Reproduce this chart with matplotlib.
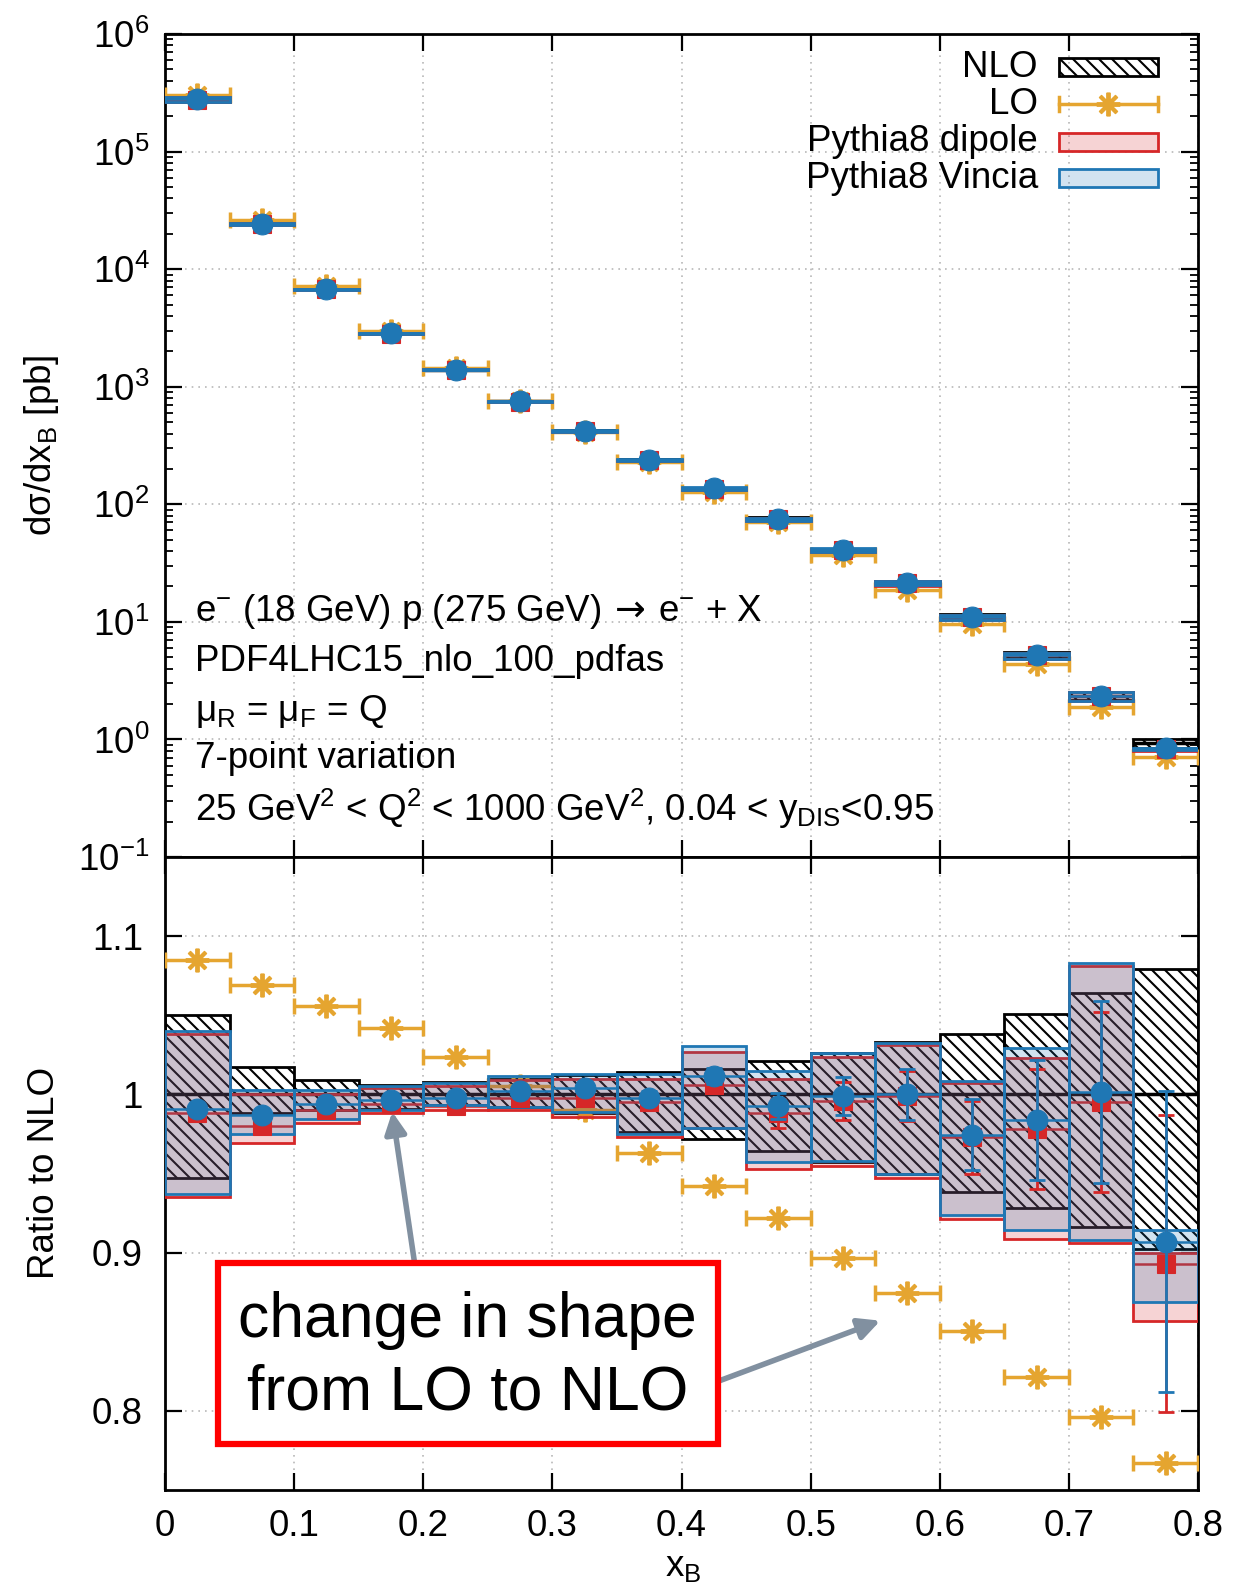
import numpy as np
import matplotlib
matplotlib.use("Agg")
import matplotlib.pyplot as plt
from matplotlib.patches import Rectangle
from matplotlib.lines import Line2D
from matplotlib.ticker import (FixedLocator, LogLocator, FuncFormatter,
                               LogFormatterMathtext, NullFormatter, MultipleLocator)

# Render at a lower dpi (denser hatching); sizes below are given for 100 dpi and rescaled.
DPI = 78
S = 100.0 / DPI


def pt(v):
    return v * S


plt.rcParams["font.family"] = ["Liberation Sans", "DejaVu Sans"]
plt.rcParams["mathtext.fontset"] = "custom"
plt.rcParams["mathtext.rm"] = "Liberation Sans"
plt.rcParams["mathtext.it"] = "Liberation Sans"
plt.rcParams["mathtext.bf"] = "Liberation Sans:bold"
plt.rcParams["mathtext.sf"] = "DejaVu Sans"
plt.rcParams["hatch.linewidth"] = pt(1.5)

HATCH = "\\\\"

# ---------------- data ----------------
bin_edges = [0.0, 0.05, 0.1, 0.15, 0.2, 0.25, 0.3, 0.35, 0.4,
             0.45, 0.5, 0.55, 0.6, 0.65, 0.7, 0.75, 0.8]

# NLO cross section per bin [pb]
nlo_xsec = [2.8e5, 2.45e4, 6.8e3, 2.85e3, 1.4e3, 750, 420, 238, 135,
            76, 41, 21.5, 11.3, 5.3, 2.36, 0.93]
# NLO scale-variation band (ratio to NLO)
nlo_up = [1.050, 1.017, 1.009, 1.006, 1.008, 1.010, 1.012, 1.014, 1.016,
          1.021, 1.026, 1.033, 1.038, 1.051, 1.064, 1.079]
nlo_dn = [0.947, 0.988, 0.990, 0.991, 0.993, 0.992, 0.988, 0.976, 0.972,
          0.964, 0.957, 0.950, 0.938, 0.928, 0.916, 0.902]

# LO (ratio to NLO)
lo_ratio = [1.085, 1.069, 1.056, 1.042, 1.0235, 1.005, 0.990, 0.963, 0.942,
            0.9216, 0.8965, 0.8745, 0.8507, 0.8216, 0.796, 0.767]

# Pythia8 dipole shower (ratio to NLO)
dipole_ratio = [0.988, 0.980, 0.990, 0.994, 0.9925, 0.998, 0.998, 0.995, 1.006,
                0.988, 0.996, 0.999, 0.973, 0.978, 0.995, 0.893]
dipole_err = [0.002, 0.002, 0.002, 0.002, 0.002, 0.002, 0.003, 0.004, 0.005,
              0.009, 0.012, 0.016, 0.023, 0.038, 0.057, 0.094]
dipole_up = [1.038, 1.000, 1.000, 1.004, 1.005, 1.009, 1.010, 1.010, 1.027,
             1.010, 1.0235, 1.031, 1.007, 1.023, 1.081, 0.900]
dipole_dn = [0.935, 0.9695, 0.982, 0.988, 0.990, 0.990, 0.986, 0.973, 0.979,
             0.953, 0.955, 0.947, 0.921, 0.9085, 0.906, 0.857]

# Pythia8 Vincia shower (ratio to NLO)
vincia_ratio = [0.991, 0.987, 0.994, 0.9966, 0.998, 1.002, 1.004, 0.998, 1.0115,
                0.9926, 0.999, 1.0, 0.9745, 0.984, 1.0015, 0.907]
vincia_err = [0.002, 0.002, 0.002, 0.002, 0.002, 0.002, 0.003, 0.004, 0.005,
              0.008, 0.0118, 0.016, 0.0225, 0.038, 0.0575, 0.095]
vincia_up = [1.040, 1.003, 1.003, 1.005, 1.007, 1.0115, 1.0126, 1.0126, 1.0305,
             1.0147, 1.0263, 1.0326, 1.0084, 1.0294, 1.083, 0.914]
vincia_dn = [0.937, 0.975, 0.9847, 0.990, 0.993, 0.992, 0.9886, 0.975, 0.979,
             0.957, 0.958, 0.950, 0.9235, 0.914, 0.908, 0.869]

ratio_ticks = [0.8, 0.9, 1.0, 1.1]

info_lines = [
    r"e$^{\mathrm{-}}$ (18 GeV) p (275 GeV)$\:\mathsf{\rightarrow}\:$e$^{\mathrm{-}}$ + X",
    "PDF4LHC15_nlo_100_pdfas",
    r"μ$_\mathrm{R}$ = μ$_\mathrm{F}$ = Q",
    "7-point variation",
    r"25 GeV$^\mathrm{2}$ < Q$^\mathrm{2}$ < 1000 GeV$^\mathrm{2}$, 0.04 < y$_\mathrm{DIS}$<0.95",
]
legend_labels = ["NLO", "LO", "Pythia8 dipole", "Pythia8 Vincia"]

# ---------------- style ----------------
C_RED = "#d62728"
C_BLUE = "#1f77b4"
C_GOLD = "#e5a530"
C_ARROW = "#8190a0"
FS = pt(26.5)

edges = np.array(bin_edges)
lo_e, hi_e = edges[:-1], edges[1:]
centers = 0.5 * (lo_e + hi_e)
widths = hi_e - lo_e


def band(ax, norm, up, dn, color, z):
    up = np.asarray(up)
    dn = np.asarray(dn)
    ax.bar(centers, norm * (up - dn), bottom=norm * dn, width=widths,
           facecolor=matplotlib.colors.to_rgba(color, 0.2), edgecolor=color,
           linewidth=pt(2), zorder=z)


def draw_panel(ax, norm):
    norm = np.asarray(norm, dtype=float)
    # NLO band (hatched) and its central value
    ax.bar(centers, norm * (np.array(nlo_up) - np.array(nlo_dn)),
           bottom=norm * np.array(nlo_dn), width=widths, facecolor="none",
           edgecolor="black", hatch=HATCH, linewidth=pt(2), zorder=2)
    ax.hlines(norm * np.ones(len(centers)), lo_e, hi_e, color="black",
              lw=pt(2.5), zorder=3)
    # LO
    ax.errorbar(centers, norm * np.array(lo_ratio), xerr=widths / 2, fmt="none",
                ecolor=C_GOLD, elinewidth=pt(2.5), capsize=pt(6), capthick=pt(2.5),
                zorder=3.5)
    ax.plot(centers, norm * np.array(lo_ratio), linestyle="none", marker=(8, 2, 0),
            ms=pt(17), mew=pt(2.8), color=C_GOLD, zorder=3.6)
    # Shower bands
    band(ax, norm, dipole_up, dipole_dn, C_RED, 4)
    ax.hlines(norm * np.array(dipole_ratio), lo_e, hi_e, color=C_RED,
              lw=pt(1.8), zorder=4.5)
    band(ax, norm, vincia_up, vincia_dn, C_BLUE, 5)
    ax.hlines(norm * np.array(vincia_ratio), lo_e, hi_e, color=C_BLUE,
              lw=pt(1.8), zorder=5.5)
    # Shower points with statistical errors
    ax.errorbar(centers, norm * np.array(dipole_ratio), yerr=norm * np.array(dipole_err),
                fmt="s", ms=pt(13), color=C_RED, ecolor=C_RED, elinewidth=pt(2),
                capsize=pt(6), capthick=pt(2), zorder=7)
    ax.errorbar(centers, norm * np.array(vincia_ratio), yerr=norm * np.array(vincia_err),
                fmt="o", ms=pt(15), color=C_BLUE, ecolor=C_BLUE, elinewidth=pt(2),
                capsize=pt(6), capthick=pt(2), zorder=8)


fig = plt.figure(figsize=(1255 / DPI, 1586 / DPI), dpi=DPI)
ax1 = fig.add_axes([165 / 1255, 1 - 857 / 1586, 1033 / 1255, 823 / 1586])
ax2 = fig.add_axes([165 / 1255, 1 - 1490 / 1586, 1033 / 1255, 633 / 1586])

draw_panel(ax1, nlo_xsec)
draw_panel(ax2, np.ones(len(nlo_xsec)))

grid_kw = dict(color="#b8b8b8", linestyle=(0, (1, 3)), linewidth=pt(1.2))
for ax in (ax1, ax2):
    ax.set_xlim(0, 0.8)
    ax.xaxis.set_major_locator(MultipleLocator(0.1))
    ax.xaxis.set_major_formatter(FuncFormatter(lambda v, p: f"{v:g}"))
    ax.grid(True, which="major", **grid_kw)
    ax.set_axisbelow(True)
    for sp in ax.spines.values():
        sp.set_linewidth(pt(2))
    ax.tick_params(which="major", direction="in", top=True, right=True,
                   length=pt(12), width=pt(1.6), labelsize=FS)
    ax.tick_params(which="minor", direction="in", top=True, right=True,
                   length=pt(6), width=pt(1.3))

# top panel axes
ax1.set_yscale("log")
ax1.set_ylim(0.1, 1e6)
ax1.yaxis.set_major_locator(LogLocator(base=10, numticks=20))
ax1.yaxis.set_minor_locator(LogLocator(base=10, subs=np.arange(2, 10), numticks=20))
ax1.yaxis.set_minor_formatter(NullFormatter())
ax1.yaxis.set_major_formatter(LogFormatterMathtext())
ax1.tick_params(axis="x", labelbottom=False)
ax1.tick_params(axis="y", pad=pt(11))

# ratio panel axes
ax2.set_ylim(0.75, 1.15)
ax2.yaxis.set_major_locator(FixedLocator(ratio_ticks))
ax2.yaxis.set_major_formatter(FuncFormatter(lambda v, p: f"{v:g}"))
ax2.tick_params(axis="y", pad=pt(16))
ax2.tick_params(axis="x", pad=pt(14))

# labels
fig.text(42 / 1255, 1 - 445 / 1586, r"dσ/dx$_\mathrm{B}$ [pb]", rotation=90,
         ha="center", va="center", fontsize=FS)
fig.text(45 / 1255, 1 - 1173 / 1586, "Ratio to NLO", rotation=90,
         ha="center", va="center", fontsize=FS)
fig.text(683 / 1255, 1 - 1566 / 1586, r"x$_\mathrm{B}$", ha="center", va="center",
         fontsize=FS)

# process information
for yy, line in zip([0.298, 0.237, 0.177, 0.120, 0.058], info_lines):
    ax1.text(0.029, yy, line, transform=ax1.transAxes, ha="left", va="center",
             fontsize=FS, zorder=10)

# legend (text right-aligned, key on the right)
tx, kx0, kw, kh = 0.845, 0.8654, 0.0958, 0.0219
rows = [0.9599, 0.9149, 0.8688, 0.8250]
for lab, yy in zip(legend_labels, rows):
    ax1.text(tx, yy, lab, transform=ax1.transAxes, ha="right", va="center",
             fontsize=FS, zorder=10)
ax1.add_patch(Rectangle((kx0, rows[0] - kh / 2), kw, kh, transform=ax1.transAxes,
                        facecolor="none", edgecolor="black", hatch=HATCH, lw=pt(2),
                        zorder=10))
ax1.add_line(Line2D([kx0, kx0 + kw], [rows[1], rows[1]], transform=ax1.transAxes,
                    color=C_GOLD, lw=pt(2.5), zorder=10))
for xe in (kx0, kx0 + kw):
    ax1.add_line(Line2D([xe, xe], [rows[1] - 0.009, rows[1] + 0.009],
                        transform=ax1.transAxes, color=C_GOLD, lw=pt(2.5), zorder=10))
ax1.add_line(Line2D([kx0 + kw / 2], [rows[1]], transform=ax1.transAxes, linestyle="none",
                    marker=(8, 2, 0), ms=pt(17), mew=pt(2.8), color=C_GOLD, zorder=10))
ax1.add_patch(Rectangle((kx0, rows[2] - kh / 2), kw, kh, transform=ax1.transAxes,
                        facecolor=matplotlib.colors.to_rgba(C_RED, 0.2),
                        edgecolor=C_RED, lw=pt(2), zorder=10))
ax1.add_patch(Rectangle((kx0, rows[3] - kh / 2), kw, kh, transform=ax1.transAxes,
                        facecolor=matplotlib.colors.to_rgba(C_BLUE, 0.2),
                        edgecolor=C_BLUE, lw=pt(2), zorder=10))

# callout box with arrows
ax2.add_patch(Rectangle((0.041, 0.779), 0.387, 0.1144, facecolor="white",
                        edgecolor="red", lw=pt(4.5), zorder=20))
ax2.text(0.2345, 0.8344, "change in shape\nfrom LO to NLO", ha="center", va="center",
         fontsize=pt(45), linespacing=1.3, zorder=21)
arrow_kw = dict(arrowstyle="-|>", color=C_ARROW, lw=pt(4), mutation_scale=pt(32),
                shrinkA=0, shrinkB=0)
ax2.annotate("", xy=(0.176, 0.989), xytext=(0.1933, 0.8934),
             arrowprops=arrow_kw, zorder=19)
ax2.annotate("", xy=(0.554, 0.857), xytext=(0.428, 0.8186),
             arrowprops=arrow_kw, zorder=19)

fig.savefig("out.png", dpi=DPI)
